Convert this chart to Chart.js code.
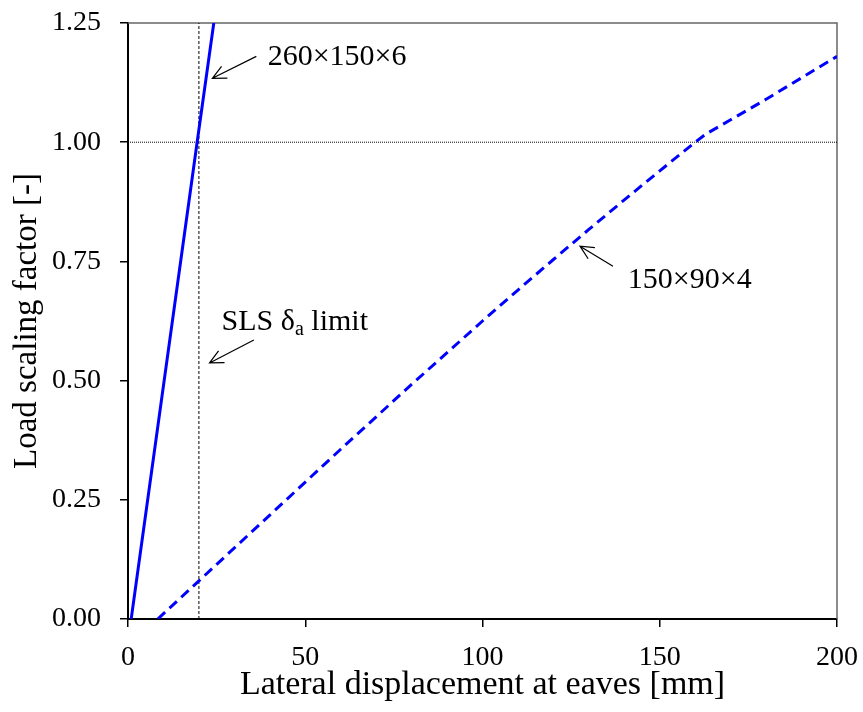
<!DOCTYPE html>
<html>
<head>
<meta charset="utf-8">
<script src="https://cdn.jsdelivr.net/npm/chart.js@4"></script>
<style>
  html, body { margin: 0; padding: 0; background: #fff; }
  #wrap { width: 863px; height: 712px; }
</style>
</head>
<body>
<div id="wrap"><canvas id="dispChart"></canvas></div>
<script>
// Load scaling factor vs. lateral eaves displacement for two frame sections
const xTicks = [0, 50, 100, 150, 200];
const yTicks = [0, 0.25, 0.5, 0.75, 1.0, 1.25];

// 260x150x6 section (stiff, near-linear)
const heavyDisp = [0.9, 19.5, 24.2];
const heavyLoad = [0, 1.0, 1.25];

// 150x90x4 section
const lightDisp = [8.4, 20, 40, 60, 80, 100, 110, 120, 130, 140, 150, 160, 163, 170, 180, 190, 200];
const lightLoad = [0, 0.08, 0.218, 0.356, 0.492, 0.625, 0.690, 0.754, 0.817, 0.879, 0.940, 1.0, 1.017, 1.047, 1.09, 1.135, 1.18];

// SLS deflection limit and unit load level
const slsLimit = 20;
const unitLoad = 1.0;

const pts = (xs, ys) => xs.map((x, i) => ({ x: x, y: ys[i] }));

const FONT = 'Liberation Serif';

// open arrows with labels, in data coordinates
const notes = [
  { text: '260\u00d7150\u00d76', tx: 39.4, ty: 1.178, from: [36.2, 1.18], to: [23.8, 1.134] },
  { text: 'SLS \u03b4', sub: 'a', after: ' limit', tx: 26.4, ty: 0.623, from: [35.5, 0.585], to: [23.0, 0.537] },
  { text: '150\u00d790\u00d74', tx: 141, ty: 0.711, from: [136.8, 0.740], to: [127.5, 0.782] }
];

const framePlugin = {
  id: 'frame',
  beforeDatasetsDraw(chart) {
    const a = chart.chartArea, ctx = chart.ctx;
    ctx.save();
    ctx.strokeStyle = '#666';
    ctx.lineWidth = 1.5;
    ctx.beginPath();
    ctx.moveTo(a.left, a.top);
    ctx.lineTo(a.right, a.top);
    ctx.lineTo(a.right, a.bottom);
    ctx.stroke();
    ctx.restore();
  },
  afterDatasetsDraw(chart) {
    const ctx = chart.ctx, xs = chart.scales.x, ys = chart.scales.y;
    ctx.save();
    ctx.fillStyle = '#000';
    ctx.strokeStyle = '#000';
    ctx.lineWidth = 1.2;
    ctx.textBaseline = 'middle';
    ctx.textAlign = 'left';
    notes.forEach(n => {
      const x0 = xs.getPixelForValue(n.from[0]), y0 = ys.getPixelForValue(n.from[1]);
      const x1 = xs.getPixelForValue(n.to[0]), y1 = ys.getPixelForValue(n.to[1]);
      const ang = Math.atan2(y1 - y0, x1 - x0);
      const len = 15, spread = 0.45;
      ctx.beginPath();
      ctx.moveTo(x0, y0);
      ctx.lineTo(x1, y1);
      ctx.moveTo(x1 - len * Math.cos(ang - spread), y1 - len * Math.sin(ang - spread));
      ctx.lineTo(x1, y1);
      ctx.lineTo(x1 - len * Math.cos(ang + spread), y1 - len * Math.sin(ang + spread));
      ctx.stroke();

      let tx = xs.getPixelForValue(n.tx);
      const ty = ys.getPixelForValue(n.ty);
      ctx.font = '30px "' + FONT + '"';
      ctx.fillText(n.text, tx, ty);
      if (n.sub) {
        tx += ctx.measureText(n.text).width;
        ctx.font = '20px "' + FONT + '"';
        ctx.fillText(n.sub, tx, ty + 8);
        tx += ctx.measureText(n.sub).width;
        ctx.font = '30px "' + FONT + '"';
        ctx.fillText(n.after, tx, ty);
      }
    });
    ctx.restore();
  }
};

// let the layout padding alone decide where the plot area sits
const noOverhang = s => {
  s.paddingTop = 0;
  s.paddingBottom = 0;
  s.paddingLeft = 0;
  s.paddingRight = 0;
};

const ctx1 = document.getElementById('dispChart').getContext('2d');
const dispChart = new Chart(ctx1, {
  type: 'scatter',
  data: {
    datasets: [
      {
        label: '260x150x6',
        data: pts(heavyDisp, heavyLoad),
        showLine: true,
        borderColor: '#0000ff',
        borderWidth: 3,
        pointRadius: 0
      },
      {
        label: '150x90x4',
        data: pts(lightDisp, lightLoad),
        showLine: true,
        borderColor: '#0000ff',
        borderWidth: 3,
        borderDash: [10, 6],
        pointRadius: 0
      },
      {
        label: 'SLS limit',
        data: pts([slsLimit, slsLimit], [yTicks[0], yTicks[yTicks.length - 1]]),
        showLine: true,
        borderColor: '#000',
        borderWidth: 1,
        borderDash: [3, 2],
        pointRadius: 0
      },
      {
        label: 'Unit load',
        data: pts([xTicks[0], xTicks[xTicks.length - 1]], [unitLoad, unitLoad]),
        showLine: true,
        borderColor: '#000',
        borderWidth: 1,
        borderDash: [1, 1],
        pointRadius: 0
      }
    ]
  },
  options: {
    responsive: true,
    maintainAspectRatio: false,
    animation: false,
    layout: { padding: { top: 23, right: 26, left: 0, bottom: 0 } },
    plugins: {
      legend: { display: false },
      tooltip: { enabled: false }
    },
    scales: {
      x: {
        type: 'linear',
        min: xTicks[0],
        max: xTicks[xTicks.length - 1],
        afterFit: s => { s.height = 93; noOverhang(s); },
        afterBuildTicks: s => { s.ticks = xTicks.map(v => ({ value: v })); },
        border: { color: '#000', width: 2 },
        grid: { drawOnChartArea: false, drawTicks: true, tickLength: 8, color: '#000', lineWidth: 1.5 },
        ticks: { color: '#000', padding: 14, maxRotation: 0, font: { family: FONT, size: 28 } },
        title: {
          display: true,
          text: 'Lateral displacement at eaves [mm]',
          color: '#000',
          font: { family: FONT, size: 34 },
          padding: { top: 0, bottom: 7 }
        }
      },
      y: {
        type: 'linear',
        min: yTicks[0],
        max: yTicks[yTicks.length - 1],
        afterFit: s => { s.width = 128; noOverhang(s); },
        afterBuildTicks: s => { s.ticks = yTicks.map(v => ({ value: v })); },
        border: { color: '#000', width: 2 },
        grid: { drawOnChartArea: false, drawTicks: true, tickLength: 8, color: '#000', lineWidth: 1.5 },
        ticks: {
          color: '#000',
          padding: 19,
          font: { family: FONT, size: 28 },
          callback: v => v.toFixed(2)
        },
        title: {
          display: true,
          text: 'Load scaling factor [-]',
          color: '#000',
          font: { family: FONT, size: 33 },
          padding: { top: 8, bottom: 0 }
        }
      }
    }
  },
  plugins: [framePlugin]
});
</script>
</body>
</html>
